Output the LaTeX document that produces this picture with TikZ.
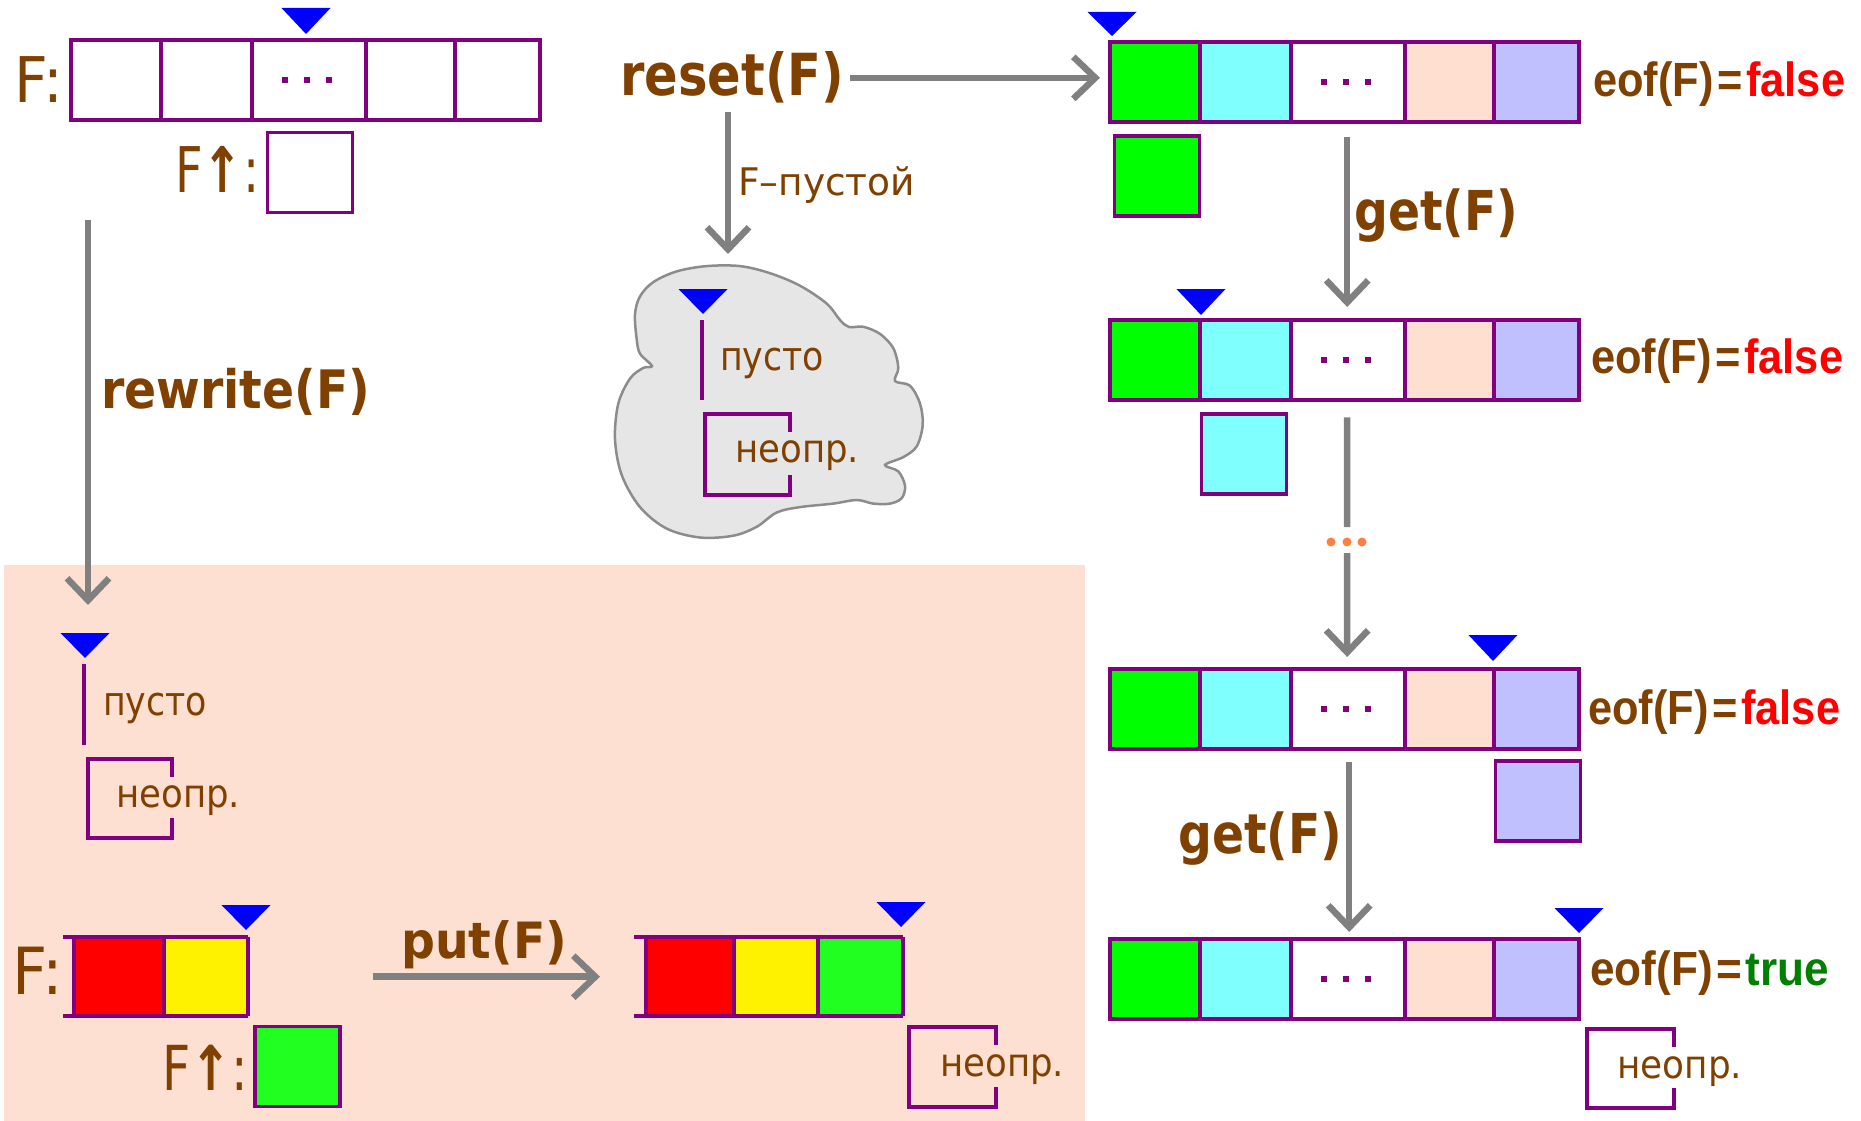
\documentclass[tikz,border=0pt]{standalone}
\usepackage{fontspec}
\usepackage{graphicx}
\setmainfont{DejaVu Sans}
\newfontfamily\eoffont{Liberation Sans}
\usetikzlibrary{arrows.meta}

\definecolor{txtbrown}{RGB}{128,64,0}
\definecolor{tapepurple}{RGB}{128,0,128}
\definecolor{ptrblue}{RGB}{0,0,255}
\definecolor{arrowgray}{RGB}{128,128,128}
\definecolor{cellgreen}{RGB}{0,255,0}
\definecolor{cellcyan}{RGB}{128,255,255}
\definecolor{cellpeach}{RGB}{255,224,208}
\definecolor{celllav}{RGB}{192,192,255}
\definecolor{zonepeach}{RGB}{253,224,210}
\definecolor{newgreen}{RGB}{32,255,32}
\definecolor{cloudfill}{RGB}{230,230,230}
\definecolor{cloudline}{RGB}{140,140,140}
\definecolor{dotorange}{RGB}{255,128,64}
\definecolor{truegreen}{RGB}{0,128,0}

% text of a given size, squeezed to a given width
\newcommand\fitted[3]{\resizebox{#1pt}{\height}{\fontsize{#2pt}{#2pt}\selectfont #3}}

\tikzset{
  lbl/.style={inner sep=0pt, anchor=base west, text=txtbrown},
  tapeline/.style={draw=tapepurple, line width=3.5pt},
  flow/.style={draw=arrowgray, line width=6.5pt, -{Straight Barb[length=22pt,width=42pt]}},
  plainflow/.style={draw=arrowgray, line width=6.5pt},
  tapeframe/.style={inner sep=0pt, minimum width=469pt, minimum height=80pt, anchor=north west},
  bufbox/.style={draw=tapepurple, line width=3.5pt, inner sep=0pt, minimum width=85pt, minimum height=80pt},
}

% a five-cell file: name, left, top, cell colours
\newcommand\filetape[8]{%
  \node[tapeframe] (#1) at (#2,#3) {};
  \fill[#4] (#2,#3) rectangle ++(90,80);
  \fill[#5] (#2+90,#3) rectangle ++(91,80);
  \fill[#6] (#2+181,#3) rectangle ++(114,80);
  \fill[#7] (#2+295,#3) rectangle ++(89,80);
  \fill[#8] (#2+384,#3) rectangle ++(85,80);
  \draw[tapeline] (#2,#3) rectangle ++(469,80);
  \foreach \dx in {90,181,295,384} {\draw[tapeline] (#2+\dx,#3) -- ++(0,80);}
  \foreach \dx in {-22,0,22} {\fill[tapepurple] (#2+236+\dx-3,#3+37) rectangle ++(6,6);}
}
% file pointer: tip x, top y, tip y
\newcommand\filepointer[3]{\fill[ptrblue] (#1-24.5,#2) -- (#1+24.5,#2) -- (#1,#3) -- cycle;}
% undefined buffer: left, top, right, bottom
\newcommand\openbox[4]{\draw[tapeline] (#3,#2+18) -- (#3,#2) -- (#1,#2) -- (#1,#4) -- (#3,#4) -- (#3,#4-20);}

\begin{document}
\begin{tikzpicture}[x=1pt,y=-1pt]
\useasboundingbox (0,0) rectangle (1861,1121);
\fill[white] (0,0) rectangle (1861,1121);
\fill[zonepeach] (4,565) rectangle (1085,1121);

% ---- file before opening
\node[lbl] (fA) at (14,103) {\fitted{49}{63}{F:}};
\filetape{tapeA}{71}{40}{white}{white}{white}{white}{white}
\filepointer{306}{8}{34}
\node[lbl] (bufAlbl) at (175,193) {\fitted{84}{63}{F{\bfseries ↑}:}};
\node[bufbox, fill=white] (bufA) at (310,172.5) {};

% ---- rewrite branch
\coordinate (rwfrom) at (88,220);
\coordinate (rwto) at (88,605);
\draw[flow] (rwfrom) -- (rwto);
\node[lbl] (rwlbl) at (101,408) {\fitted{269}{53}{\bfseries rewrite(F)}};

\filepointer{85}{633}{658}
\draw[tapeline] (84,664) -- (84,745);
\node[lbl] (emptyB) at (103,715) {\fitted{104}{40}{пусто}};
\openbox{88}{759}{172}{838}
\node[lbl] (undefB) at (116,807) {\fitted{124}{39}{неопр.}};

% ---- put
\node[lbl] (fP) at (12,994) {\fitted{51}{65}{F:}};
\node[inner sep=0pt, minimum width=174pt, minimum height=79pt, anchor=north west] (tapeP) at (74,937) {};
\fill[red] (74,937) rectangle (164,1016);
\fill[yellow] (164,937) rectangle (248,1016);
\draw[tapeline] (63,937) -- (248,937) (63,1016) -- (248,1016);
\foreach \vx in {74,164,248} {\draw[tapeline] (\vx,937) -- (\vx,1016);}
\filepointer{246}{905}{930}
\node[lbl] (bufPlbl) at (162,1090) {\fitted{86}{62}{F{\bfseries ↑}:}};
\node[bufbox, fill=newgreen] (bufP) at (297.5,1066.5) {};

\node[inner sep=0pt, minimum width=257pt, minimum height=79pt, anchor=north west] (tapeQ) at (646,937) {};
\draw[flow, shorten <=125pt, shorten >=46pt] (tapeP.east) -- (tapeQ.west);
\node[lbl] (putlbl) at (401,958) {\fitted{166}{50}{\bfseries put(F)}};

\fill[red] (646,937) rectangle (734,1016);
\fill[yellow] (734,937) rectangle (818,1016);
\fill[newgreen] (818,937) rectangle (903,1016);
\draw[tapeline] (634,937) -- (903,937) (634,1016) -- (903,1016);
\foreach \vx in {646,734,818,903} {\draw[tapeline] (\vx,937) -- (\vx,1016);}
\filepointer{901}{902}{927}
\openbox{909}{1027}{996}{1107}
\node[lbl] (undefQ) at (940,1076) {\fitted{124}{39}{неопр.}};

% ---- reset branch
\node[lbl] (resetlbl) at (620,96) {\fitted{224}{58}{\bfseries reset(F)}};
\filetape{tapeR1}{1110}{42}{cellgreen}{cellcyan}{white}{cellpeach}{celllav}
\draw[flow, shorten <=6pt, shorten >=10pt] (resetlbl.east) -- (resetlbl.east -| tapeR1.west);

\coordinate (cloudtop) at (728,254);
\draw[flow, shorten <=8pt] (resetlbl.south -| cloudtop) -- (cloudtop);
\node[lbl] (emptylbl) at (738,196) {\fitted{177}{38}{F–пустой}};

% empty-file cloud
\draw[cloudline, fill=cloudfill, line width=2.5pt]
  plot[smooth cycle, tension=0.55] coordinates {
    (636.7,339.3) (635,314.3) (640,296.4) (653.3,282.1) (676.7,271.4)
    (706.7,266.1) (740,266.1) (770,273.2) (800,285.7) (826.7,303.6)
    (840,320) (849,327) (863.3,326.8) (880,333.9) (893.3,348.2)
    (898.3,367.9) (895,381) (910,385.7) (920,403.6) (922.7,425)
    (916.7,446.4) (903.3,457.1) (885,465) (898.3,471.4) (905,485.7)
    (901.7,498.2) (890,503.6) (873.3,503.6) (856.7,500) (833.3,503.6)
    (800,507.1) (776.7,512.5) (756.7,526.8) (733.3,535.7) (700,537.5)
    (666.7,528.6) (640,507.1) (621.7,475) (615,439.3) (618.3,403.6)
    (630,378.6) (643.3,367.9) (652,366) (640,353.6)};
\filepointer{703}{289}{314}
\draw[tapeline] (702,320) -- (702,400);
\node[lbl] (emptyC) at (720,370) {\fitted{104}{40}{пусто}};
\openbox{705}{414}{790}{495}
\node[lbl] (undefC) at (735,462) {\fitted{124}{39}{неопр.}};

% ---- reading with get
\filepointer{1112}{12}{36}
\node[lbl] (eof1) at (1593,97) {\fitted{252}{48}{\eoffont\bfseries eof(F)\kern4pt=\kern4pt\textcolor{red}{false}}};
\node[bufbox, fill=cellgreen] (bufR1) at (1157,176) {};

\filetape{tapeR2}{1110}{320}{cellgreen}{cellcyan}{white}{cellpeach}{celllav}
\draw[flow, shorten <=15pt, shorten >=13pt] ([xshift=2.5pt]tapeR1.south) -- ([xshift=2.5pt]tapeR2.north);
\node[lbl] (get1) at (1354,230) {\fitted{164}{55}{\bfseries get(F)}};
\filepointer{1201}{289}{315}
\node[lbl] (eof2) at (1591,373) {\fitted{252}{48}{\eoffont\bfseries eof(F)\kern4pt=\kern4pt\textcolor{red}{false}}};
\node[bufbox, fill=cellcyan] (bufR2) at (1244,454) {};

\filetape{tapeR3}{1110}{669}{cellgreen}{cellcyan}{white}{cellpeach}{celllav}
\coordinate (dotmid) at (1347,542);
\draw[plainflow, shorten <=17pt] ([xshift=2.5pt]tapeR2.south) -- ([yshift=15pt]dotmid);
\foreach \px in {1331,1347,1362} {\fill[dotorange] (\px,542) circle (4.5pt);}
\draw[flow, shorten >=12pt] ([yshift=-11pt]dotmid) -- ([xshift=2.5pt]tapeR3.north);
\filepointer{1493}{635}{661}
\node[lbl] (eof3) at (1588,724) {\fitted{252}{48}{\eoffont\bfseries eof(F)\kern4pt=\kern4pt\textcolor{red}{false}}};
\node[bufbox, fill=celllav] (bufR3) at (1538,801) {};

\filetape{tapeR4}{1110}{939}{cellgreen}{cellcyan}{white}{cellpeach}{celllav}
\draw[flow, shorten <=13pt, shorten >=7pt] ([xshift=4.5pt]tapeR3.south) -- ([xshift=4.5pt]tapeR4.north);
\node[lbl] (get2) at (1178,853) {\fitted{164}{55}{\bfseries get(F)}};
\filepointer{1579}{908}{933}
\node[lbl] (eof4) at (1590,985) {\fitted{239}{48}{\eoffont\bfseries eof(F)\kern4pt=\kern4pt\textcolor{truegreen}{true}}};
\openbox{1587}{1029}{1674}{1108}
\node[lbl] (undefR) at (1617,1078) {\fitted{125}{39}{неопр.}};
\end{tikzpicture}
\end{document}
